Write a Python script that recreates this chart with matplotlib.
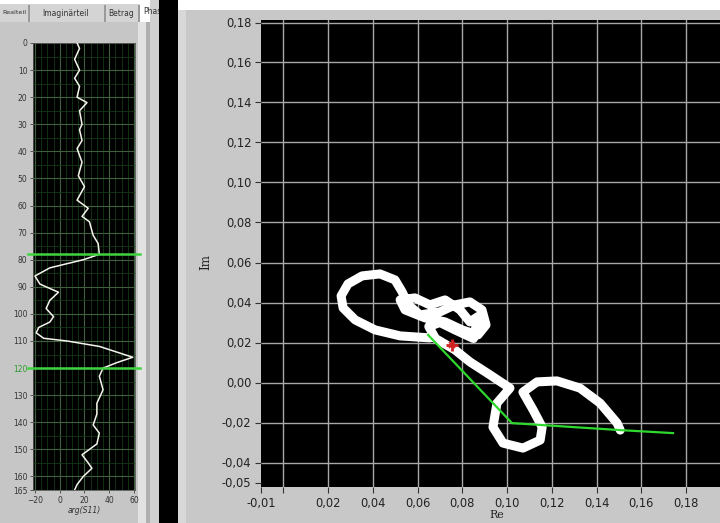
import matplotlib
matplotlib.use('Agg')
import matplotlib.pyplot as plt
from matplotlib.patches import Rectangle

# ---- data ----
# left panel: phase of S11 vs sample index
phase_idx = [0, 2, 6, 10, 13, 16, 20, 22, 25, 30, 32, 36, 39, 44, 49, 53, 58, 61, 64, 66,
             71, 74, 78, 80, 83, 86, 89, 92, 95, 98, 101, 103, 105, 107, 109, 110, 112, 116, 118, 120,
             123, 128, 133, 137, 141, 144, 148, 150, 152, 155, 157, 160, 163, 165]
phase_val = [14, 16, 12, 16, 12, 16, 14, 22, 16, 18, 16, 18, 14, 18, 15, 20, 14, 23, 18, 24,
             27, 31, 32, 19, -8, -20, -16, -1, -8, -11, -5, -8, -17, -19, -13, 6, 32, 59, 46, 35,
             32, 35, 30, 30, 27, 32, 30, 24, 18, 23, 26, 19, 14, 12]
cursor_idx = [78, 120]
phase_xticks = [-20, 0, 20, 40, 60]
phase_yticks = [0, 10, 20, 30, 40, 50, 60, 70, 80, 90, 100, 110, 120, 130, 140, 150, 160, 165]

# right panel: locus of S11 in the complex plane
s11_re = [0.0655, 0.0522, 0.0410, 0.0321, 0.0267, 0.0258, 0.0289, 0.0352, 0.0432, 0.0499,
          0.0531, 0.0558, 0.0611, 0.0700, 0.0767, 0.0834, 0.0888, 0.0906, 0.0870, 0.0799,
          0.0723, 0.0633, 0.0544, 0.0522, 0.0588, 0.0655, 0.0723, 0.0790, 0.0834, 0.0870,
          0.0850, 0.0767, 0.0700, 0.0650, 0.0680, 0.0767, 0.0834, 0.0924, 0.1013, 0.0955,
          0.0937, 0.0982, 0.1071, 0.1148, 0.1157, 0.1117, 0.1071, 0.1134, 0.1223, 0.1326,
          0.1416, 0.1492, 0.1506]
s11_im = [0.0223, 0.0233, 0.0263, 0.0313, 0.0373, 0.0433, 0.0493, 0.0533, 0.0543, 0.0513,
          0.0453, 0.0388, 0.0338, 0.0353, 0.0388, 0.0403, 0.0363, 0.0288, 0.0238, 0.0263,
          0.0303, 0.0323, 0.0363, 0.0413, 0.0423, 0.0388, 0.0413, 0.0363, 0.0303, 0.0330,
          0.0220, 0.0263, 0.0300, 0.0280, 0.0220, 0.0163, 0.0103, 0.0038, -0.0028, -0.0103,
          -0.0223, -0.0303, -0.0328, -0.0288, -0.0223, -0.0138, -0.0048, 0.0003, 0.0008, -0.0028,
          -0.0103, -0.0203, -0.0238]
fit_re = [0.0647, 0.1022, 0.1505, 0.1742]
fit_im = [0.0238, -0.0203, -0.0238, -0.0253]
marker_re = [0.0754]
marker_im = [0.0188]
re_ticks = [-0.01, 0.0, 0.02, 0.04, 0.06, 0.08, 0.10, 0.12, 0.14, 0.16, 0.18]
re_labels = ['-0,01', '', '0,02', '0,04', '0,06', '0,08', '0,10', '0,12', '0,14', '0,16', '0,18']
im_ticks = [-0.05, -0.04, -0.02, 0.0, 0.02, 0.04, 0.06, 0.08, 0.10, 0.12, 0.14, 0.16, 0.18]
im_labels = ['-0,05', '-0,04', '-0,02', '0,00', '0,02', '0,04', '0,06', '0,08', '0,10',
             '0,12', '0,14', '0,16', '0,18']

W, H = 720, 523


def fx(px):
    return px / W


def fy(py):
    return 1 - py / H


def rect(fig, x0, y0, x1, y1, color, z=0):
    fig.add_artist(Rectangle((fx(x0), fy(y1)), fx(x1) - fx(x0), fy(y0) - fy(y1),
                             transform=fig.transFigure, facecolor=color,
                             edgecolor='none', zorder=z))


fig = plt.figure(figsize=(7.2, 5.23), dpi=100)
fig.patch.set_facecolor('white')

# panel backgrounds
rect(fig, 0, 22, 140, H, '#c6c6c6', -5)
rect(fig, 138, 22, 146, H, '#e2e2e2', -5)
rect(fig, 146, 22, 150, H, '#b0b0b0', -5)
rect(fig, 150, 0, 159, H, '#d0d0d0', -5)
rect(fig, 178, 10, W, H, '#c8c8c8', -5)
rect(fig, 178, 10, 186, H, '#d8d8d8', -5)

# tab bar
rect(fig, 0, 4, 140, 22, '#d4d4d4', -4)
for sx in [28, 104, 138]:
    rect(fig, sx, 5, sx + 1.5, 22, '#9a9a9a', -3)
tab_font = dict(color='#333333', va='center', family='DejaVu Sans')
fig.text(fx(14), fy(13), 'Realteil', ha='center', fontsize=4.6, **tab_font)
fig.text(fx(66), fy(13), 'Imaginärteil', ha='center', fontsize=5.5, **tab_font)
fig.text(fx(121), fy(13), 'Betrag', ha='center', fontsize=5.5, **tab_font)
fig.text(fx(143), fy(12), 'Phase', ha='left', fontsize=5.5, **tab_font)
rect(fig, 159, 0, 178, H, '#000000', 5)

# ---- left: phase plot ----
axl = fig.add_axes([fx(33), fy(490), fx(135) - fx(33), fy(43) - fy(490)])
axl.set_facecolor('black')
axl.set_xlim(-21.6, 60.8)
axl.set_ylim(165, 0)
axl.set_xticks(phase_xticks)
axl.set_xticks(range(-20, 61, 5), minor=True)
axl.set_yticks(phase_yticks)
axl.set_yticks(range(0, 166, 5), minor=True)
axl.grid(which='minor', color='#163816', lw=0.6)
axl.grid(which='major', color='#3f5f3f', lw=0.8)
axl.tick_params(which='both', length=0)
axl.tick_params(which='major', length=2.5, width=0.6, color='#444444',
                labelsize=5.5, labelcolor='#333333', pad=1.5)
axl.set_axisbelow(True)
for sp in axl.spines.values():
    sp.set_color('#555555')
    sp.set_linewidth(0.6)
axl.plot(phase_val, phase_idx, color='#f4f4ec', lw=1.1, zorder=3)
for ci in cursor_idx:
    axl.plot([-0.05, 1.05], [ci, ci], color='#3fd43f', lw=1.8, zorder=4,
             transform=axl.get_yaxis_transform(), clip_on=False)
for lab in axl.get_yticklabels():
    if lab.get_text() == '120':
        lab.set_color('#2e9a2e')
axl.set_xlabel('arg(S11)', fontsize=5.5, color='#333333', labelpad=1, style='italic')

# ---- right: complex plane ----
axr = fig.add_axes([fx(261), fy(487), fx(W) - fx(261), fy(20) - fy(487)])
axr.set_facecolor('black')
axr.set_xlim(-0.01, 0.1952)
axr.set_ylim(-0.05225, 0.18125)
axr.set_xticks(re_ticks)
axr.set_xticklabels(re_labels)
axr.set_yticks(im_ticks)
axr.set_yticklabels(im_labels)
axr.tick_params(length=4, width=0.8, color='#333333', labelsize=8.3,
                labelcolor='#222222', pad=3)
for sp in axr.spines.values():
    sp.set_visible(False)

for t in re_ticks[1:]:
    axr.axvline(t, color='#a8a8a8', lw=1.0, zorder=1)
for t in im_ticks[1:]:
    axr.axhline(t, color='#a8a8a8', lw=1.0, zorder=1)

axr.plot(s11_re, s11_im, color='white', lw=6.5, solid_capstyle='round',
         solid_joinstyle='round', zorder=3)
axr.plot(fit_re, fit_im, color='#2ed82e', lw=1.6, zorder=4)
axr.plot(marker_re, marker_im, marker='+', color='#d02020', ms=8, mew=2, zorder=5)
axr.plot(marker_re, marker_im, marker='x', color='#d02020', ms=4, mew=1.2, zorder=5)

fig.text(fx(206), fy(262), 'Im', rotation=90, fontsize=8.5, color='#222222',
         ha='center', va='center', family='DejaVu Serif')
fig.text(fx(497), fy(515), 'Re', fontsize=8, color='#222222',
         ha='center', va='center', family='DejaVu Serif')

fig.savefig('out.png', dpi=100, facecolor=fig.get_facecolor())
